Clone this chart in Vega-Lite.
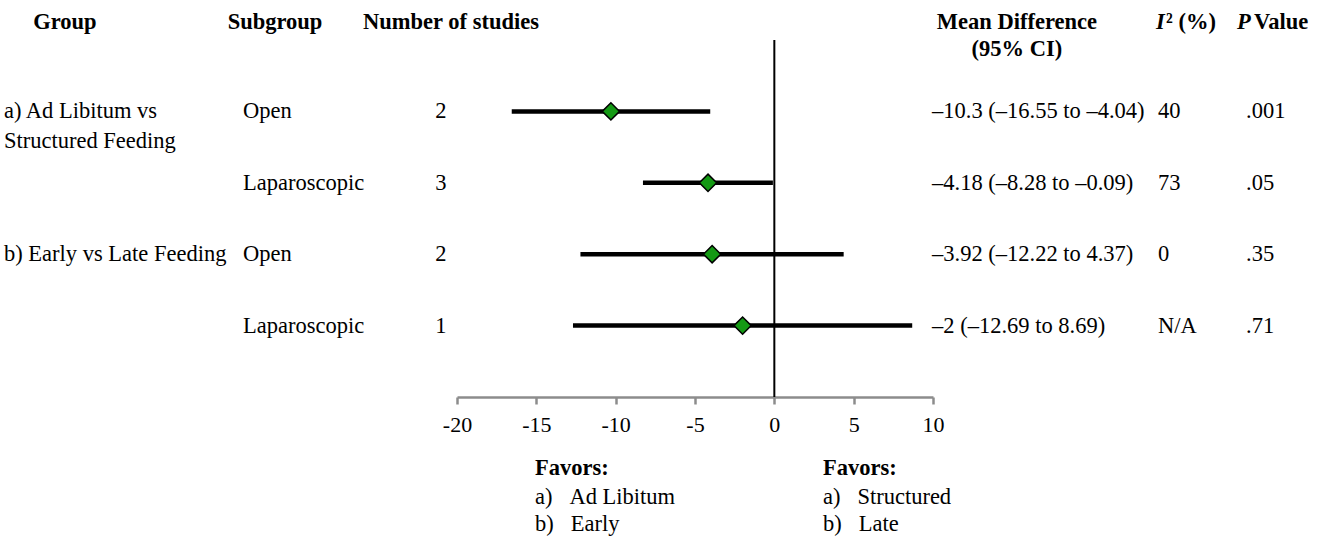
{
  "$schema": "https://vega.github.io/schema/vega-lite/v6.json",
  "width": 476,
  "height": 357,
  "autosize": {"type": "none"},
  "padding": {"left": 457, "top": 40, "right": 395, "bottom": 141},
  "background": "white",
  "config": {
    "view": {"stroke": null},
    "font": "Liberation Serif",
    "text": {"font": "Liberation Serif", "fontSize": 22.5, "color": "black"}
  },
  "datasets": {
    "studies": [
      {"row": 1, "subgroup": "Open", "n": 2, "md": -10.3, "lo": -16.55, "hi": -4.04, "ci": "–10.3 (–16.55 to –4.04)", "i2": "40", "p": ".001"},
      {"row": 2, "subgroup": "Laparoscopic", "n": 3, "md": -4.18, "lo": -8.28, "hi": -0.09, "ci": "–4.18 (–8.28 to –0.09)", "i2": "73", "p": ".05"},
      {"row": 3, "subgroup": "Open", "n": 2, "md": -3.92, "lo": -12.22, "hi": 4.37, "ci": "–3.92 (–12.22 to 4.37)", "i2": "0", "p": ".35"},
      {"row": 4, "subgroup": "Laparoscopic", "n": 1, "md": -2, "lo": -12.69, "hi": 8.69, "ci": "–2 (–12.69 to 8.69)", "i2": "N/A", "p": ".71"}
    ],
    "groups": [
      {"row": 1, "group": ["a) Ad Libitum vs", "Structured Feeding"]},
      {"row": 3, "group": ["b) Early vs Late Feeding"]}
    ],
    "one": [{}]
  },
  "layer": [
    {
      "data": {"name": "studies"},
      "mark": {"type": "rule", "color": "black", "strokeWidth": 4.5},
      "encoding": {
        "x": {
          "field": "lo", "type": "quantitative",
          "scale": {"domain": [-20, 10], "nice": false, "zero": false},
          "axis": {
            "title": null, "grid": false, "values": [-20, -15, -10, -5, 0, 5, 10],
            "labelExpr": "(datum.value < 0 ? '-' : '') + abs(datum.value)",
            "labelFlush": false, "labelOverlap": false,
            "domainColor": "#8c8c8c", "domainWidth": 2.5, "tickColor": "#8c8c8c", "tickWidth": 2.5, "tickSize": 7,
            "labelFont": "Liberation Serif", "labelFontSize": 22, "labelColor": "black", "labelPadding": 10
          }
        },
        "x2": {"field": "hi"},
        "y": {"field": "row", "type": "quantitative", "scale": {"domain": [0, 5], "reverse": true, "nice": false, "zero": false}, "axis": null}
      }
    },
    {
      "data": {"name": "one"},
      "mark": {"type": "rule", "color": "black", "strokeWidth": 2},
      "encoding": {"x": {"datum": 0, "type": "quantitative"}}
    },
    {
      "data": {"name": "studies"},
      "mark": {"type": "point", "shape": "diamond", "filled": true, "fill": "#149914", "stroke": "black", "strokeWidth": 1.5, "size": 300, "opacity": 1},
      "encoding": {
        "x": {"field": "md", "type": "quantitative"},
        "y": {"field": "row", "type": "quantitative"}
      }
    },
    {
      "data": {"name": "groups"},
      "mark": {"type": "text", "align": "left", "baseline": "alphabetic", "dy": 7, "lineHeight": 30},
      "encoding": {
        "x": {"datum": -48.55, "type": "quantitative"},
        "y": {"field": "row", "type": "quantitative"},
        "text": {"field": "group"}
      }
    },
    {
      "data": {"name": "studies"},
      "mark": {"type": "text", "align": "left", "baseline": "middle"},
      "encoding": {
        "x": {"datum": -33.49, "type": "quantitative"},
        "y": {"field": "row", "type": "quantitative"},
        "text": {"field": "subgroup"}
      }
    },
    {
      "data": {"name": "studies"},
      "mark": {"type": "text", "align": "center", "baseline": "middle"},
      "encoding": {
        "x": {"datum": -21.01, "type": "quantitative"},
        "y": {"field": "row", "type": "quantitative"},
        "text": {"field": "n"}
      }
    },
    {
      "data": {"name": "studies"},
      "mark": {"type": "text", "align": "left", "baseline": "middle"},
      "encoding": {
        "x": {"datum": 9.94, "type": "quantitative"},
        "y": {"field": "row", "type": "quantitative"},
        "text": {"field": "ci"}
      }
    },
    {
      "data": {"name": "studies"},
      "mark": {"type": "text", "align": "left", "baseline": "middle"},
      "encoding": {
        "x": {"datum": 24.18, "type": "quantitative"},
        "y": {"field": "row", "type": "quantitative"},
        "text": {"field": "i2"}
      }
    },
    {
      "data": {"name": "studies"},
      "mark": {"type": "text", "align": "left", "baseline": "middle"},
      "encoding": {
        "x": {"datum": 29.73, "type": "quantitative"},
        "y": {"field": "row", "type": "quantitative"},
        "text": {"field": "p"}
      }
    },
    {
      "data": {"name": "one"},
      "mark": {"type": "text", "align": "center", "baseline": "middle", "fontWeight": "bold", "text": "Group"},
      "encoding": {"x": {"datum": -44.71, "type": "quantitative"}, "y": {"datum": -0.25, "type": "quantitative"}}
    },
    {
      "data": {"name": "one"},
      "mark": {"type": "text", "align": "center", "baseline": "middle", "fontWeight": "bold", "text": "Subgroup"},
      "encoding": {"x": {"datum": -31.47, "type": "quantitative"}, "y": {"datum": -0.25, "type": "quantitative"}}
    },
    {
      "data": {"name": "one"},
      "mark": {"type": "text", "align": "center", "baseline": "middle", "fontWeight": "bold", "text": "Number of studies"},
      "encoding": {"x": {"datum": -20.38, "type": "quantitative"}, "y": {"datum": -0.25, "type": "quantitative"}}
    },
    {
      "data": {"name": "one"},
      "mark": {"type": "text", "align": "center", "baseline": "alphabetic", "dy": 7, "fontWeight": "bold", "lineHeight": 27, "text": ["Mean Difference", "(95% CI)"]},
      "encoding": {"x": {"datum": 15.29, "type": "quantitative"}, "y": {"datum": -0.25, "type": "quantitative"}}
    },
    {
      "data": {"name": "one"},
      "mark": {"type": "text", "align": "left", "baseline": "middle", "fontWeight": "bold", "fontStyle": "italic", "text": "I"},
      "encoding": {"x": {"datum": 24.05, "type": "quantitative"}, "y": {"datum": -0.25, "type": "quantitative"}}
    },
    {
      "data": {"name": "one"},
      "mark": {"type": "text", "align": "left", "baseline": "middle", "fontWeight": "bold", "text": "² (%)"},
      "encoding": {"x": {"datum": 24.69, "type": "quantitative"}, "y": {"datum": -0.25, "type": "quantitative"}}
    },
    {
      "data": {"name": "one"},
      "mark": {"type": "text", "align": "left", "baseline": "middle", "fontWeight": "bold", "fontStyle": "italic", "text": "P"},
      "encoding": {"x": {"datum": 29.16, "type": "quantitative"}, "y": {"datum": -0.25, "type": "quantitative"}}
    },
    {
      "data": {"name": "one"},
      "mark": {"type": "text", "align": "left", "baseline": "middle", "fontWeight": "bold", "text": "Value"},
      "encoding": {"x": {"datum": 30.23, "type": "quantitative"}, "y": {"datum": -0.25, "type": "quantitative"}}
    },
    {
      "data": {"name": "one"},
      "mark": {"type": "text", "align": "left", "baseline": "middle", "fontWeight": "bold", "text": "Favors:"},
      "encoding": {"x": {"datum": -15.08, "type": "quantitative"}, "y": {"datum": 5.99, "type": "quantitative"}}
    },
    {
      "data": {"name": "one"},
      "mark": {"type": "text", "align": "left", "baseline": "alphabetic", "dy": 7, "lineHeight": 27, "text": ["a)\u00a0\u00a0\u00a0Ad Libitum", "b)\u00a0\u00a0\u00a0Early"]},
      "encoding": {"x": {"datum": -15.08, "type": "quantitative"}, "y": {"datum": 6.4, "type": "quantitative"}}
    },
    {
      "data": {"name": "one"},
      "mark": {"type": "text", "align": "left", "baseline": "middle", "fontWeight": "bold", "text": "Favors:"},
      "encoding": {"x": {"datum": 3.07, "type": "quantitative"}, "y": {"datum": 5.99, "type": "quantitative"}}
    },
    {
      "data": {"name": "one"},
      "mark": {"type": "text", "align": "left", "baseline": "alphabetic", "dy": 7, "lineHeight": 27, "text": ["a)\u00a0\u00a0\u00a0Structured", "b)\u00a0\u00a0\u00a0Late"]},
      "encoding": {"x": {"datum": 3.07, "type": "quantitative"}, "y": {"datum": 6.4, "type": "quantitative"}}
    }
  ]
}
